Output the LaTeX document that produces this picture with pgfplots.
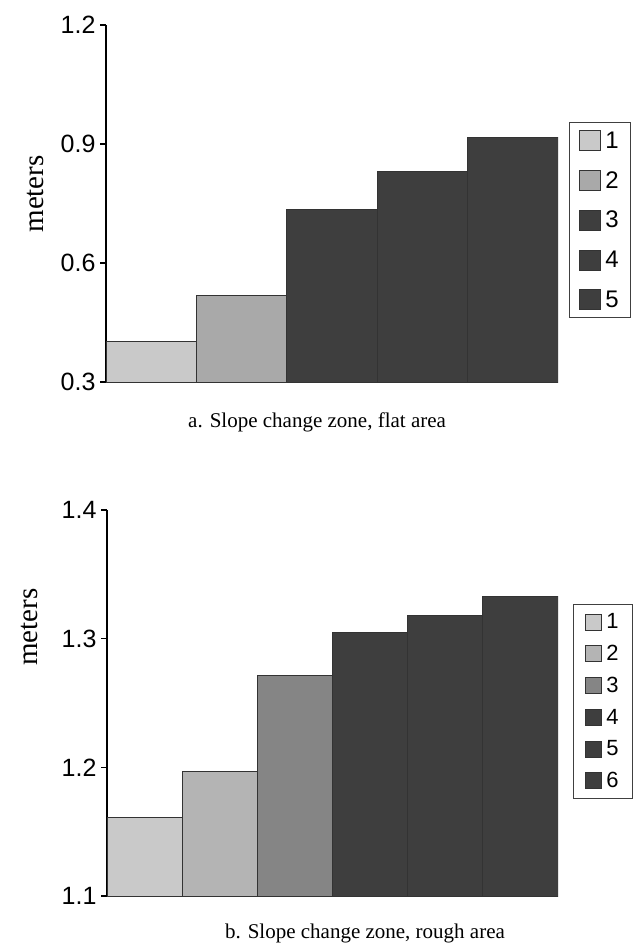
\documentclass[border=0pt]{standalone}
\usepackage{fontspec}
\setmainfont{Liberation Serif}
\newfontfamily\arial{Liberation Sans}
\usepackage{pgfplots}
\pgfplotsset{compat=1.18}

\definecolor{barA}{HTML}{C9C9C9}
\definecolor{barB}{HTML}{A9A9A9}
\definecolor{barBb}{HTML}{B4B4B4}
\definecolor{barC}{HTML}{858585}
\definecolor{barD}{HTML}{3E3E3E}
\definecolor{edge}{HTML}{333333}

\pgfplotsset{
  panel/.style={
    scale only axis, anchor=south west,
    axis x line=bottom, axis y line=left,
    x axis line style={-, line width=2.6pt},
    y axis line style={-, line width=1.6pt},
    xtick=\empty, enlargelimits=false,
    ytick pos=left, tick align=outside,
    major tick length=6pt, tick style={line width=1.2pt, black},
    yticklabel style={font=\arial\fontsize{25}{27}\selectfont, xshift=-1pt},
    /pgf/number format/.cd, fixed, fixed zerofill, precision=1, assume math mode=true, /pgfplots/.cd,
    ylabel style={font=\fontsize{29}{32}\selectfont, anchor=center},
    xlabel style={font=\fontsize{21}{24}\selectfont, anchor=center},
    legend cell align=left,
    bar width=1, area legend,
  },
  bar/.style={ybar, bar shift=0pt, draw=edge, line width=1pt, fill=#1},
}

\begin{document}
\begin{tikzpicture}
\useasboundingbox (0pt,0pt) rectangle (636pt,-947pt);

% a. flat area
\begin{axis}[panel,
  at={(106pt,-382pt)}, width=452pt, height=357pt,
  xmin=-0.5, xmax=4.5, ymin=0.3, ymax=1.2,
  ytick={0.3,0.6,0.9,1.2},
  ylabel={meters}, ylabel style={at={(axis description cs:-0.155,0.527)}},
  xlabel={a. Slope change zone, flat area},
  xlabel style={at={(axis description cs:0.467,-0.112)}},
  legend image code/.code={\draw[#1, draw=black!80, line width=1pt] (0pt,-10pt) rectangle (21pt,10pt);},
  legend style={at={(1.024,0.727)}, anchor=north west, draw=black!75, line width=1pt,
    font=\arial\fontsize{24}{26}\selectfont, row sep=17.5pt, inner xsep=10pt, inner ysep=7pt,
    /tikz/every odd column/.append style={column sep=2pt}},
]
\addplot[bar=barA] coordinates {(0,0.402)};
\addplot[bar=barB] coordinates {(1,0.519)};
\addplot[bar=barD] coordinates {(2,0.734)};
\addplot[bar=barD] coordinates {(3,0.831)};
\addplot[bar=barD] coordinates {(4,0.917)};
\legend{1,2,3,4,5}
\end{axis}

% b. rough area
\begin{axis}[panel,
  at={(107pt,-896pt)}, width=451pt, height=386pt,
  xmin=-0.5, xmax=5.5, ymin=1.1, ymax=1.4,
  ytick={1.1,1.2,1.3,1.4},
  ylabel={meters}, ylabel style={at={(axis description cs:-0.172,0.697)}},
  xlabel={b. Slope change zone, rough area},
  xlabel style={at={(axis description cs:0.572,-0.098)}},
  legend image code/.code={\draw[#1, draw=black!80, line width=1pt] (0pt,-8pt) rectangle (16pt,8pt);},
  legend style={at={(1.033,0.756)}, anchor=north west, draw=black!75, line width=1pt,
    font=\arial\fontsize{22}{24}\selectfont, row sep=11pt, inner xsep=12pt, inner ysep=7pt,
    /tikz/every odd column/.append style={column sep=2pt}},
]
\addplot[bar=barA] coordinates {(0,1.161)};
\addplot[bar=barBb] coordinates {(1,1.197)};
\addplot[bar=barC] coordinates {(2,1.271)};
\addplot[bar=barD] coordinates {(3,1.305)};
\addplot[bar=barD] coordinates {(4,1.318)};
\addplot[bar=barD] coordinates {(5,1.333)};
\legend{1,2,3,4,5,6}
\end{axis}
\end{tikzpicture}
\end{document}
